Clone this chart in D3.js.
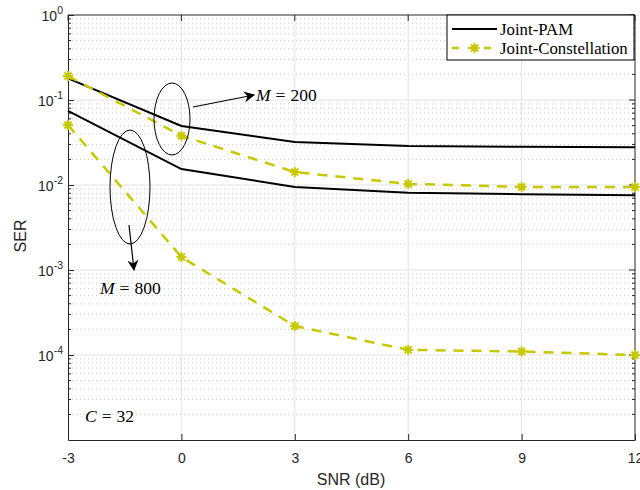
<!DOCTYPE html>
<html><head><meta charset="utf-8">
<script src="https://cdn.jsdelivr.net/npm/d3@7"></script>
<style>body{margin:0;background:#fff}svg{display:block}</style>
</head><body><svg id="c" width="640" height="490"></svg>
<script>
const snr = [-3, 0, 3, 6, 9, 12];
const pam200 = [0.18, 0.0494, 0.032, 0.0288, 0.0281, 0.0278];
const const200 = [0.191, 0.038, 0.0142, 0.0103, 0.0095, 0.0095];
const pam800 = [0.0743, 0.0154, 0.0095, 0.0081, 0.0078, 0.0076];
const const800 = [0.0508, 0.00142, 0.000219, 0.000115, 0.00011, 0.0001];
const xTicks = [-3, 0, 3, 6, 9, 12];
const yDecades = [0, -1, -2, -3, -4, -5];
const seriesNames = ["Joint-PAM", "Joint-Constellation"];

const svg = d3.select("#c");
const L = 68, R = 635, T = 15, B = 440;
const x = d3.scaleLinear().domain([-3, 12]).range([L, R]);
const y = d3.scaleLog().domain([1e-5, 1]).range([B, T]);
const axisCol = "#262626";
const yel = "#c8c800";
const sans = "Liberation Sans, Arial, sans-serif";

// minor grid
const minor = [];
for (let e = -5; e < 0; e++) for (let k = 2; k <= 9; k++) minor.push(k * Math.pow(10, e));
svg.append("g").selectAll("line").data(minor).join("line")
  .attr("x1", L).attr("x2", R).attr("y1", d => y(d)).attr("y2", d => y(d))
  .attr("stroke", "#c8c8c8").attr("stroke-width", 1).attr("stroke-dasharray", "1,3");
// major grid
svg.append("g").selectAll("line").data(yDecades.slice(1, 5)).join("line")
  .attr("x1", L).attr("x2", R).attr("y1", d => y(Math.pow(10, d))).attr("y2", d => y(Math.pow(10, d)))
  .attr("stroke", "#e3e3e3").attr("stroke-width", 1);
svg.append("g").selectAll("line").data(xTicks.slice(1, 5)).join("line")
  .attr("x1", d => x(d)).attr("x2", d => x(d)).attr("y1", T).attr("y2", B)
  .attr("stroke", "#e3e3e3").attr("stroke-width", 1);

// axes via d3
const xAxis = d3.axisBottom(x).tickValues(xTicks).tickSizeInner(-6).tickSizeOuter(0).tickPadding(13).tickFormat(d => String(d));
const gx = svg.append("g").attr("transform", `translate(0,${B})`).call(xAxis);
gx.select(".domain").attr("stroke", axisCol);
gx.selectAll(".tick line").attr("stroke", axisCol);
gx.selectAll("text").attr("font-family", sans).attr("font-size", 14).attr("fill", axisCol);

const yAxis = d3.axisLeft(y).tickValues(yDecades.slice(0, 5).map(d => Math.pow(10, d))).tickSizeInner(-6).tickSizeOuter(0).tickFormat("");
const gy = svg.append("g").attr("transform", `translate(${L},0)`).call(yAxis);
gy.select(".domain").attr("stroke", axisCol);
gy.selectAll(".tick line").attr("stroke", axisCol);
// minor ticks left and right
[L, R].forEach(px => {
  svg.append("g").selectAll("line").data(minor).join("line")
    .attr("x1", px).attr("x2", px === L ? px + 3 : px - 3).attr("y1", d => y(d)).attr("y2", d => y(d))
    .attr("stroke", axisCol).attr("stroke-width", 1);
});
// top/right box
svg.append("line").attr("x1", L).attr("x2", R).attr("y1", T).attr("y2", T).attr("stroke", axisCol);
svg.append("line").attr("x1", R).attr("x2", R).attr("y1", T).attr("y2", B).attr("stroke", axisCol);
svg.append("g").selectAll("line").data(xTicks).join("line")
  .attr("x1", d => x(d)).attr("x2", d => x(d)).attr("y1", T).attr("y2", T + 6).attr("stroke", axisCol);
svg.append("g").selectAll("line").data(yDecades.slice(0, 5)).join("line")
  .attr("x1", R).attr("x2", R - 6).attr("y1", d => y(Math.pow(10, d))).attr("y2", d => y(Math.pow(10, d))).attr("stroke", axisCol);

// y tick labels 10^n
const yl = svg.append("g").selectAll("text").data(yDecades.slice(0, 5)).join("text")
  .attr("x", L - 5).attr("y", d => y(Math.pow(10, d)) + 6)
  .attr("text-anchor", "end").attr("font-family", sans)
  .attr("font-size", 14).attr("fill", axisCol);
yl.append("tspan").text("10");
yl.append("tspan").attr("dy", -7).attr("font-size", 10.5).text(d => d === 0 ? "0" : "-" + Math.abs(d));

// axis titles
svg.append("text").attr("x", 351).attr("y", 485).attr("text-anchor", "middle")
  .attr("font-family", sans).attr("font-size", 16).attr("fill", axisCol).text("SNR (dB)");
svg.append("text").attr("transform", `translate(26,236) rotate(-90)`).attr("text-anchor", "middle")
  .attr("font-family", sans).attr("font-size", 16).attr("fill", axisCol).text("SER");

// lines
const line = d3.line().x((d, i) => x(snr[i])).y(d => y(d));
[pam200, pam800].forEach(s => svg.append("path").attr("d", line(s)).attr("fill", "none")
  .attr("stroke", "#000").attr("stroke-width", 2));
function star(g, cx, cy) {
  const r = 5;
  g.append("circle").attr("cx", cx).attr("cy", cy).attr("r", 3).attr("fill", yel);
  [0, 45, 90, 135].forEach(a => {
    const rad = a * Math.PI / 180;
    g.append("line").attr("x1", cx - r * Math.cos(rad)).attr("y1", cy - r * Math.sin(rad))
      .attr("x2", cx + r * Math.cos(rad)).attr("y2", cy + r * Math.sin(rad))
      .attr("stroke", yel).attr("stroke-width", 2);
  });
}
[const200, const800].forEach(s => {
  svg.append("path").attr("d", line(s)).attr("fill", "none")
    .attr("stroke", yel).attr("stroke-width", 2.5).attr("stroke-dasharray", "10,8");
  const g = svg.append("g");
  s.forEach((v, i) => star(g, x(snr[i]), y(v)));
});

// annotations
const ser = "Liberation Serif, Times New Roman, serif";
svg.append("ellipse").attr("cx", 172).attr("cy", 119).attr("rx", 18).attr("ry", 36)
  .attr("fill", "none").attr("stroke", "#000").attr("stroke-width", 1);
svg.append("ellipse").attr("cx", 130).attr("cy", 187).attr("rx", 20).attr("ry", 57)
  .attr("fill", "none").attr("stroke", "#000").attr("stroke-width", 1);
svg.append("defs").append("marker").attr("id", "ah").attr("viewBox", "0 0 10 10").attr("refX", 9).attr("refY", 5)
  .attr("markerWidth", 11).attr("markerHeight", 11).attr("markerUnits", "userSpaceOnUse").attr("orient", "auto")
  .append("path").attr("d", "M0,0 L10,5 L0,10 L3,5 Z").attr("fill", "#000");
svg.append("line").attr("x1", 193).attr("y1", 107).attr("x2", 254).attr("y2", 95)
  .attr("stroke", "#000").attr("stroke-width", 1.2).attr("marker-end", "url(#ah)");
svg.append("line").attr("x1", 129).attr("y1", 225).attr("x2", 134).attr("y2", 270)
  .attr("stroke", "#000").attr("stroke-width", 1.2).attr("marker-end", "url(#ah)");
function mathText(tx, ty, v, val) {
  const t = svg.append("text").attr("x", tx).attr("y", ty).attr("font-family", ser).attr("font-size", 17.5).attr("fill", "#000");
  t.append("tspan").attr("font-style", "italic").text(v);
  t.append("tspan").attr("dx", 5).text("=");
  t.append("tspan").attr("dx", 5).text(val);
}
mathText(256, 101, "M", "200");
mathText(100, 294, "M", "800");
mathText(85, 422, "C", "32");

// legend
const lg = svg.append("g");
lg.append("rect").attr("x", 447).attr("y", 15).attr("width", 187).attr("height", 45)
  .attr("fill", "#fff").attr("stroke", "#000").attr("stroke-width", 1);
lg.append("line").attr("x1", 452).attr("x2", 497).attr("y1", 29).attr("y2", 29).attr("stroke", "#000").attr("stroke-width", 2);
lg.append("line").attr("x1", 452).attr("x2", 497).attr("y1", 48).attr("y2", 48).attr("stroke", yel)
  .attr("stroke-width", 2.5).attr("stroke-dasharray", "7,9");
star(lg, 474.5, 48);
lg.selectAll("text").data(seriesNames).join("text").attr("x", 500).attr("y", (d, i) => 34.5 + i * 19)
  .attr("font-family", ser).attr("font-size", 16.8).attr("fill", "#000").text(d => d);
</script></body></html>
